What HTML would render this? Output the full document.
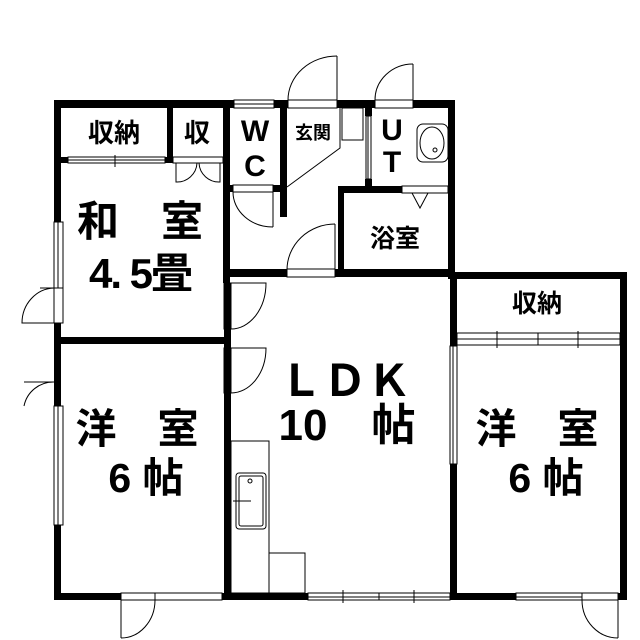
<!DOCTYPE html>
<html><head><meta charset="utf-8"><style>
html,body{margin:0;padding:0;background:#fff;}
svg{display:block}
text{font-family:"Liberation Sans","Noto Sans CJK JP",sans-serif;fill:#000;text-anchor:middle;font-weight:bold}
</style></head><body>
<svg width="640" height="640" viewBox="0 0 640 640" xmlns="http://www.w3.org/2000/svg">
<g fill="#000">
<rect x="54" y="100" width="180" height="8"/>
<rect x="274" y="100" width="14" height="8"/>
<rect x="337" y="100" width="38" height="8"/>
<rect x="413" y="100" width="42" height="8"/>
<rect x="54" y="100" width="7" height="122"/>
<rect x="54" y="323" width="7" height="83"/>
<rect x="54" y="525" width="7" height="75"/>
<rect x="54" y="593" width="67" height="7"/>
<rect x="222" y="593" width="86" height="7"/>
<rect x="450" y="593" width="66" height="7"/>
<rect x="618" y="593" width="9" height="7"/>
<rect x="620" y="272" width="7" height="328"/>
<rect x="450" y="272" width="177" height="7"/>
<rect x="448" y="100" width="7" height="179"/>
<rect x="61" y="157" width="7" height="6"/>
<rect x="165" y="157" width="8" height="6"/>
<rect x="167" y="108" width="6" height="55"/>
<rect x="223" y="108" width="7" height="175"/>
<rect x="224" y="283" width="7" height="317"/>
<rect x="273" y="185" width="14" height="7"/>
<rect x="280" y="108" width="7" height="109"/>
<rect x="223" y="185" width="10" height="7"/>
<rect x="365" y="108" width="7" height="8"/>
<rect x="365" y="179" width="7" height="14"/>
<rect x="338" y="186" width="64" height="7"/>
<rect x="338" y="186" width="6" height="91"/>
<rect x="224" y="269" width="63" height="8"/>
<rect x="335" y="269" width="120" height="8"/>
<rect x="54" y="337" width="177" height="7"/>
<rect x="450" y="272" width="7" height="74"/>
<rect x="450" y="464" width="7" height="136"/>
</g>
<g fill="none" stroke="#000" stroke-width="1">
<rect x="234" y="100" width="40" height="8"/><line x1="234" y1="104" x2="274" y2="104"/>
<rect x="288" y="100" width="49" height="8"/>
<line x1="337" y1="100" x2="337" y2="56"/>
<path d="M288 100 A49 44 0 0 1 337 56"/>
<rect x="375" y="100" width="38" height="8"/>
<line x1="413" y1="100" x2="413" y2="64"/>
<path d="M375 100 A38 36 0 0 1 413 64"/>
<polyline points="340,108 340,148 287,187"/>
<rect x="342" y="108" width="21" height="32"/>
<rect x="366" y="116" width="5" height="63"/><line x1="368" y1="116" x2="368" y2="179"/>
<rect x="417" y="124" width="31" height="38" rx="6"/>
<ellipse cx="432" cy="143" rx="12" ry="16"/>
<circle cx="435" cy="150" r="2"/>
<rect x="402" y="186" width="46" height="7"/>
<polyline points="412,193 420,208 428,193"/>
<rect x="68" y="157" width="97" height="6"/><line x1="68" y1="160" x2="165" y2="160"/>
<line x1="115" y1="155" x2="115" y2="167"/><line x1="105" y1="160" x2="125" y2="160"/>
<rect x="173" y="157" width="50" height="6"/>
<path d="M176 163 L176 182 A20 20 0 0 0 197 163"/>
<path d="M220 163 L220 182 A20 20 0 0 1 199 163"/>
<rect x="233" y="185" width="40" height="7"/>
<line x1="273" y1="192" x2="273" y2="227"/>
<path d="M233 192 A40 35 0 0 0 273 227"/>
<rect x="287" y="269" width="48" height="8"/>
<line x1="335" y1="269" x2="335" y2="224"/>
<path d="M287 270 A48 46 0 0 1 335 224"/>
<rect x="54" y="222" width="9" height="66"/><line x1="58" y1="222" x2="58" y2="288"/>
<rect x="54" y="288" width="9" height="35"/>
<line x1="54" y1="288" x2="40" y2="288"/>
<path d="M54 288 A33 35 0 0 0 22 323 L54 323"/>
<rect x="54" y="406" width="9" height="119"/><line x1="58" y1="406" x2="58" y2="525"/>
<path d="M54 382 A30 30 0 0 0 24 406"/>
<line x1="24" y1="382" x2="54" y2="382"/>
<rect x="121" y="593" width="34" height="7"/>
<line x1="121" y1="600" x2="121" y2="638"/>
<path d="M121 638 A34 38 0 0 0 155 600"/>
<rect x="155" y="593" width="67" height="7"/>
<rect x="224" y="283" width="7" height="46"/>
<path d="M231 283 L266 283 A35 46 0 0 1 231 329"/>
<rect x="224" y="348" width="7" height="45"/>
<path d="M231 348 L266 348 A35 45 0 0 1 231 393"/>
<rect x="231" y="441" width="38" height="152"/>
<rect x="269" y="553" width="36" height="40"/>
<rect x="236" y="473" width="30" height="56" rx="3"/>
<rect x="239" y="476" width="24" height="50" rx="2"/>
<circle cx="250" cy="481" r="2"/>
<line x1="233" y1="501" x2="251" y2="501"/>
<rect x="308" y="593" width="142" height="7"/><line x1="308" y1="597" x2="450" y2="597"/>
<line x1="343" y1="590" x2="343" y2="603"/><line x1="414" y1="590" x2="414" y2="603"/>
<line x1="379" y1="593" x2="379" y2="600"/>
<rect x="450" y="346" width="7" height="118"/><line x1="453" y1="346" x2="453" y2="464"/>
<rect x="457" y="333" width="163" height="12"/><line x1="457" y1="339" x2="620" y2="339"/>
<line x1="497" y1="331" x2="497" y2="348"/><line x1="578" y1="331" x2="578" y2="348"/>
<line x1="538" y1="333" x2="538" y2="345"/>
<rect x="516" y="593" width="66" height="7"/><line x1="516" y1="597" x2="582" y2="597"/>
<rect x="582" y="593" width="36" height="7"/>
<line x1="618" y1="600" x2="618" y2="638"/>
<path d="M582 600 A36 38 0 0 0 618 638"/>
</g>
<g>
<text x="114" y="142" font-size="26">収納</text>
<text x="197" y="142" font-size="26">収</text>
<text x="255" y="141" font-size="30">W</text>
<text x="255" y="176" font-size="30">C</text>
<text x="313" y="139" font-size="18">玄関</text>
<text x="392" y="140" font-size="30">U</text>
<text x="392" y="172" font-size="30">T</text>
<text x="395" y="247" font-size="25">浴室</text>
<text x="140" y="236" font-size="42">和　室</text>
<text x="140" y="288" font-size="42" letter-spacing="-2">4. 5畳</text>
<text x="345" y="396" font-size="44">ＬＤＫ</text>
<text x="347" y="440" font-size="44">10　帖</text>
<text x="137" y="443" font-size="41">洋　室</text>
<text x="146" y="492" font-size="41">6 帖</text>
<text x="537" y="443" font-size="41">洋　室</text>
<text x="546" y="492" font-size="41">6 帖</text>
<text x="537" y="312" font-size="25">収納</text>
</g>
</svg>
</body></html>
